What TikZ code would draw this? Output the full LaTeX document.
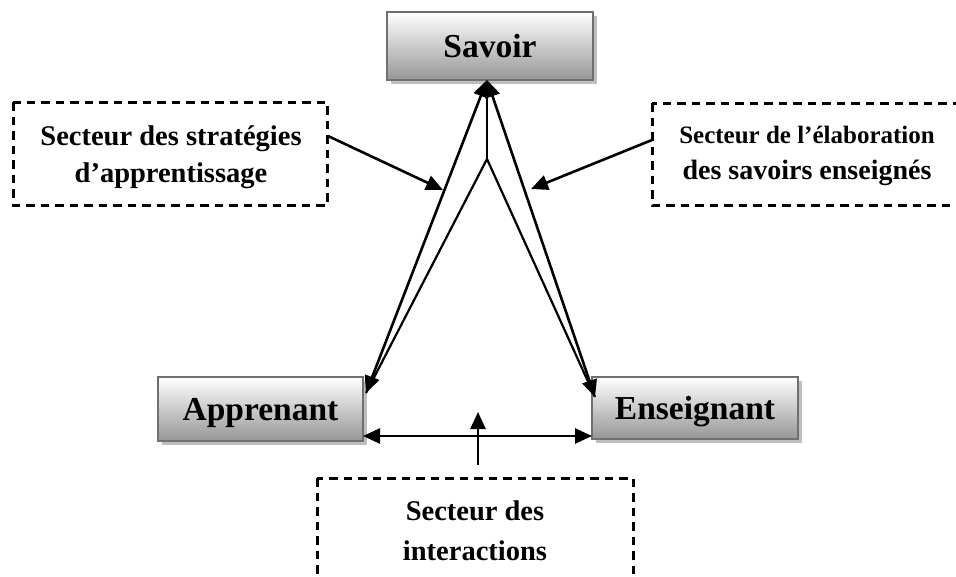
\documentclass[tikz,border=0pt]{standalone}
\usepackage{fontspec}
\setmainfont{Liberation Serif}
\usetikzlibrary{arrows.meta,shadows}
\begin{document}
\begin{tikzpicture}[x=1pt,y=-1pt,
  box/.style={draw={rgb,255:red,112;green,112;blue,112}, line width=2.6pt,
    top color=white, bottom color={rgb,255:red,150;green,150;blue,150},
    drop shadow={shadow xshift=4pt, shadow yshift=-4pt, fill={rgb,255:red,190;green,190;blue,190}, opacity=1},
    font=\bfseries\fontsize{33.5}{40}\selectfont, inner sep=0pt,
    text height=23pt, text depth=0pt},
  sector/.style={draw, dash pattern=on 8.5pt off 6pt, line width=3pt},
  lab/.style={font=\bfseries\fontsize{28.5}{37}\selectfont, align=center, inner sep=0pt},
  arr/.style={line width=2.6pt, -{Triangle[length=17pt,width=15pt]}},
  twoarr/.style={line width=2.6pt, {Triangle[length=17pt,width=15pt]}-{Triangle[length=17pt,width=15pt]}},
  thin/.style={line width=2.2pt},
]
\useasboundingbox (0,0) rectangle (956,576);
\clip (0,0) rectangle (956,576);

% boxes
\node[box, minimum width=206pt, minimum height=68pt] (sav) at (490,46) {Savoir};
\node[box, minimum width=205pt, minimum height=64pt] (app) at (260.5,409) {Apprenant};
\node[box, minimum width=206pt, minimum height=62pt] (ens) at (695,408) {Enseignant};

% sector boxes
\draw[sector] (13,102) rectangle (327,205);
\draw[sector] (652,103) rectangle (980,205);
\draw[sector] (317,478) rectangle (633,600);

\node[lab] (l1) at (171,157) {Secteur des stratégies\\d’apprentissage};
\node[lab] (r1) at (807,156) {{\fontsize{25}{35}\selectfont Secteur de l’élaboration}\\[-1pt]{\fontsize{28}{35}\selectfont des savoirs enseignés}};
\node[lab, font=\bfseries\fontsize{28.5}{40}\selectfont] (b1) at (475,531) {Secteur des\\interactions};

% coordinates
\coordinate (apex) at (487,80);
\coordinate (mid) at (487,159);
\coordinate (top) at (487,92);
\coordinate (ac) at (366,393);
\coordinate (ec) at (595,397);
\coordinate (ah) at (363,436);
\coordinate (eh) at (592,436);
\coordinate (vb) at (478,465);
\coordinate (vt) at (478,412);
\coordinate (ls) at (328,136);
\coordinate (lt) at (443,190);
\coordinate (rs) at (652,140);
\coordinate (rt) at (531,189);

% triangle connectors
\draw[twoarr] (apex) -- (ac);
\draw[twoarr] (apex) -- (ec);
\draw[thin] (top) -- (mid);
\draw[thin] (mid) -- (ac);
\draw[thin] (mid) -- (ec);

% other arrows
\draw[twoarr] (ah) -- (eh);
\draw[arr] (vb) -- (vt);
\draw[arr] (ls) -- (lt);
\draw[arr] (rs) -- (rt);
\end{tikzpicture}
\end{document}
